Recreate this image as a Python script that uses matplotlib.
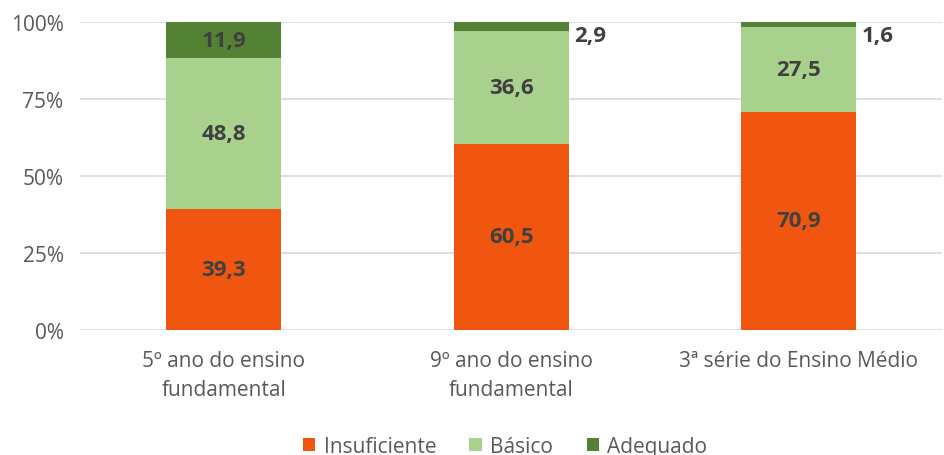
import matplotlib.pyplot as plt
import numpy as np

plt.rcParams['font.family'] = ['Open Sans', 'DejaVu Sans']

categorias = ['5º ano do ensino\nfundamental', '9º ano do ensino\nfundamental', '3ª série do Ensino Médio']
insuficiente = [39.3, 60.5, 70.9]
basico = [48.8, 36.6, 27.5]
adequado = [11.9, 2.9, 1.6]

series = ['Insuficiente', 'Básico', 'Adequado']
cores = ['#F0560F', '#A9D18E', '#548235']
texto = '#404040'

fig = plt.figure(figsize=(9.44, 4.56), dpi=100)
ax = fig.add_axes([0.085, 0.274, 0.913, 0.676])

x = np.arange(len(categorias))
largura = 0.40
base = np.zeros(len(categorias))
for nome, valores, cor in zip(series, [insuficiente, basico, adequado], cores):
    ax.bar(x, valores, largura, bottom=base, color=cor, label=nome, zorder=2)
    for i, v in enumerate(valores):
        if v >= 5:
            ax.text(x[i], base[i] + v / 2, f'{v:.1f}'.replace('.', ','), ha='center', va='center',
                    fontsize=16, fontweight='bold', color=texto, zorder=3)
        else:
            # rótulos pequenos ficam ao lado da barra
            ax.text(x[i] + largura / 2 + 0.02, base[i] + v - 4.5, f'{v:.1f}'.replace('.', ','), ha='left',
                    va='center', fontsize=16, fontweight='bold', color=texto, zorder=3)
    base += np.array(valores)

ax.set_xlim(-0.5, 2.5)
ax.set_ylim(0, 100)
ax.set_yticks([0, 25, 50, 75, 100])
ax.set_yticklabels(['0%', '25%', '50%', '75%', '100%'])
ax.set_xticks(x)
ax.set_xticklabels(categorias, linespacing=1.55)
ax.tick_params(axis='both', length=0, labelsize=15, labelcolor='#595959')
ax.tick_params(axis='x', pad=14)
ax.tick_params(axis='y', pad=12)
ax.grid(axis='y', color='#D9D9D9', linewidth=1.2, zorder=0)
for s in ax.spines.values():
    s.set_visible(False)

leg = fig.legend(loc='lower center', ncol=3, frameon=False, fontsize=15, handlelength=0.6,
                 handleheight=0.6, handletextpad=0.4, columnspacing=1.6, bbox_to_anchor=(0.535, -0.045))
for t in leg.get_texts():
    t.set_color('#595959')

fig.savefig('out.png', dpi=100)
